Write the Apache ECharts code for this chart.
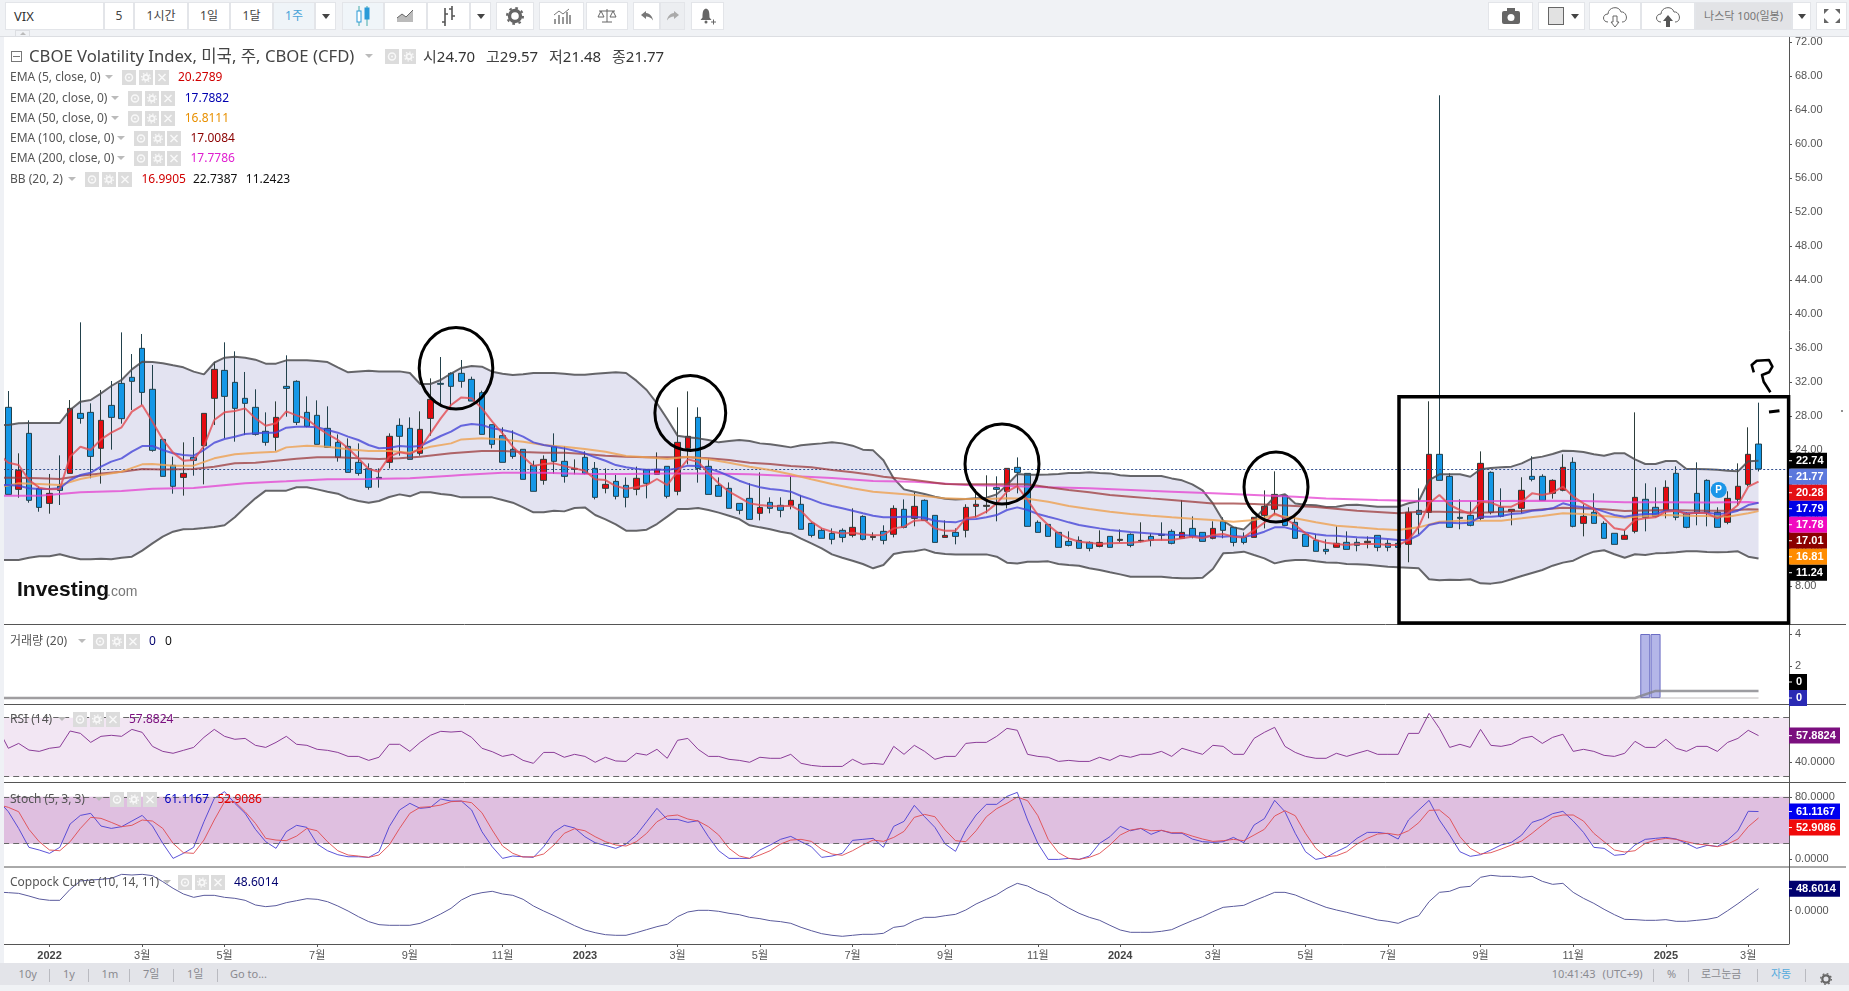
<!DOCTYPE html>
<html lang="ko">
<head>
<meta charset="utf-8">
<title>VIX 주봉 차트</title>
<script src="https://cdn.jsdelivr.net/npm/echarts@6/dist/echarts.min.js"></script>
<style>
  html,body{margin:0;padding:0;background:#fff;width:1849px;height:991px;overflow:hidden;
    font-family:"Noto Sans","Noto Sans CJK KR",sans-serif;}
  #chart{position:absolute;left:0;top:0;width:1849px;height:991px;}
  .abs{position:absolute;white-space:nowrap;}
  #toolbar{position:absolute;left:0;top:0;width:1849px;height:36px;background:#f0f2f5;border-bottom:1px solid #dcdee2;}
  #gutter{position:absolute;left:0;top:37px;width:4px;height:926px;background:#eff1f5;}
  #bottombar{position:absolute;left:0;top:963px;width:1849px;height:22px;background:#e3e4e9;}
  #footer{position:absolute;left:0;top:985px;width:1849px;height:6px;background:#f0f2f5;}
  .cell{position:absolute;top:2px;height:28px;background:#fff;border:1px solid #e3e5e9;box-sizing:border-box;
    text-align:center;line-height:26px;font-size:12px;color:#444;}
  .cell svg{position:absolute;left:50%;top:50%;transform:translate(-50%,-50%);}
  .caret{position:absolute;left:50%;top:50%;margin:-2px 0 0 -4px;width:0;height:0;border-left:4px solid transparent;border-right:4px solid transparent;border-top:5px solid #444;}
  .lg{position:absolute;white-space:nowrap;font-size:12px;line-height:16px;color:#555;}
  .dd{position:absolute;width:0;height:0;border-left:4px solid transparent;border-right:4px solid transparent;border-top:4px solid #bbb;}
  .btn{position:absolute;width:14px;height:15px;}
  .bb{position:absolute;top:969px;height:13px;width:1px;background:#b9bac0;}
  .bt{position:absolute;top:966px;font-size:11px;line-height:16px;color:#8a8a90;white-space:nowrap;}
  #tab{position:absolute;left:15px;top:30px;width:15px;height:6px;background:#f0f2f5;border:1px solid #dcdee2;border-bottom:0;box-sizing:border-box;}
  #tab:after{content:"";position:absolute;left:4px;top:1px;width:0;height:0;border-left:3px solid transparent;border-right:3px solid transparent;border-bottom:3px solid #bbb;}
</style>
</head>
<body>
<div id="chart"></div>
<div id="toolbar"></div>
<div id="tab"></div>
<div id="gutter"></div>
<div id="bottombar"></div>
<div id="footer"></div>
<div id="overlay"></div>
<script>
// Weekly VIX bars, December 2021 to March 2025 (index 0 = first week drawn)
const opens = [
  29.02,19.37,25.96,19.45,17.72,19.73,21.25,28.31,28.43,24.20,
  29.25,31.84,32.55,35.96,31.14,25.25,22.20,20.78,23.14,24.51,
  30.08,33.37,31.96,30.08,29.02,26.20,25.49,31.49,32.08,28.43,
  28.08,26.55,24.90,24.43,22.55,21.80,20.78,22.55,26.90,26.55,
  23.61,27.72,31.84,33.02,33.02,32.31,30.74,26.98,25.69,24.08,
  24.08,22.19,20.43,24.43,22.67,21.72,23.14,21.84,19.49,20.31,
  19.84,19.37,21.72,21.14,22.08,19.14,24.19,27.84,22.08,19.84,
  19.49,17.72,18.31,16.55,17.84,17.49,17.49,17.61,15.37,14.55,
  14.19,14.55,13.96,16.19,13.72,14.43,14.08,17.02,15.96,18.08,
  16.31,13.72,14.31,14.55,17.37,17.37,19.57,19.13,21.96,21.25,
  15.49,15.25,14.31,13.25,13.37,13.13,12.66,13.84,13.37,14.08,
  13.29,13.84,14.08,14.43,13.61,14.78,14.31,13.61,15.61,14.90,
  13.72,13.72,16.31,17.02,18.66,15.49,14.08,13.37,12.31,12.55,
  13.14,13.14,13.10,13.96,13.02,13.02,12.90,16.90,16.67,23.49,
  20.90,16.08,16.31,15.96,21.37,17.26,16.79,17.14,20.90,20.90,
  18.90,19.26,22.55,15.37,16.67,15.37,14.20,13.49,14.43,18.20,
  17.26,16.90,21.26,16.55,18.90,20.43,16.67,15.49,18.20,19.96,24.70
];
const closes = [
  18.78,21.61,18.08,17.25,18.90,19.25,28.90,27.72,23.25,27.49,
  27.84,27.69,32.08,30.78,23.96,20.90,19.73,21.25,22.78,28.31,
  33.49,30.31,28.90,29.49,25.84,24.90,27.84,31.25,27.25,26.78,
  24.67,24.31,23.14,21.37,21.25,19.61,20.63,25.61,25.61,22.90,
  26.43,29.96,31.73,31.49,32.08,29.76,25.84,24.67,22.55,23.25,
  20.55,19.14,22.90,22.67,20.90,21.84,21.25,18.43,19.96,18.55,
  18.43,20.67,20.08,21.72,18.55,24.90,25.61,21.84,18.78,18.55,
  17.14,16.90,15.84,17.25,17.14,16.90,18.08,14.67,13.96,13.61,
  13.49,13.72,14.90,13.49,13.84,13.37,17.13,14.90,17.37,15.72,
  13.13,13.96,13.84,17.25,17.61,17.49,19.37,21.84,21.37,15.02,
  14.31,13.84,12.55,12.78,12.43,12.43,13.13,12.55,13.49,12.78,
  13.37,13.37,13.96,13.02,14.31,13.84,13.25,14.78,14.55,13.13,
  13.13,16.08,17.37,18.78,15.13,13.61,12.66,12.08,12.08,13.02,
  12.31,12.79,13.26,12.55,12.55,12.55,16.67,16.43,23.49,20.43,
  14.90,15.96,15.14,22.43,16.67,16.20,17.02,19.26,20.55,18.08,
  20.43,21.96,15.02,16.20,15.37,13.61,12.90,13.96,18.43,16.08,
  16.20,19.61,16.08,14.90,16.55,16.67,14.90,18.31,19.73,23.49,21.77
];
const lows = [
  18.78,18.39,17.80,16.74,16.51,17.53,21.25,27.10,20.67,20.04,
  24.04,27.10,28.71,29.29,23.80,20.90,18.86,18.63,20.98,19.96,
  26.94,25.37,24.98,25.76,25.69,24.51,23.92,27.92,26.94,26.67,
  24.67,24.31,22.63,21.37,20.98,19.33,19.57,21.84,23.33,22.90,
  23.33,25.69,29.29,28.70,31.33,29.76,25.84,24.19,22.55,22.98,
  20.55,19.14,19.92,21.21,20.16,21.14,21.14,18.19,18.90,18.19,
  17.25,18.67,18.31,21.14,18.31,18.67,22.31,20.16,18.78,18.55,
  17.14,16.43,15.84,15.72,16.55,16.08,17.02,14.67,13.72,13.61,
  12.90,13.14,13.72,13.37,13.37,12.90,13.72,14.78,15.02,15.72,
  13.13,13.72,12.90,13.72,16.08,16.55,15.61,17.13,18.90,15.02,
  14.31,13.84,12.55,12.66,12.43,12.08,12.55,12.55,13.13,12.55,
  13.13,12.66,13.37,12.90,13.61,13.61,13.25,13.49,13.61,12.66,
  12.90,13.72,14.78,16.31,15.13,13.61,12.66,12.08,11.72,12.55,
  12.31,12.08,12.43,12.08,12.08,12.55,10.79,14.08,15.96,20.43,
  14.90,14.67,15.02,15.73,16.43,16.08,15.14,16.55,20.31,18.08,
  18.28,19.14,14.90,13.84,15.37,13.61,12.90,13.49,14.20,14.43,
  16.08,15.96,15.73,14.79,15.14,15.02,14.90,15.26,17.49,19.73,21.48
];
const highs = [
  30.94,23.61,27.49,19.69,21.18,23.37,29.88,39.02,29.49,31.06,
  32.12,37.84,35.29,37.65,34.00,25.25,23.22,24.90,25.53,28.31,
  34.39,36.67,35.61,33.18,31.14,28.43,29.72,35.14,32.20,30.31,
  29.84,29.14,25.84,25.37,24.78,22.43,21.84,25.96,27.72,27.84,
  28.55,32.43,34.94,33.14,34.59,32.63,30.98,26.98,26.67,26.31,
  24.08,22.74,23.37,25.96,24.43,22.90,23.84,22.59,21.84,21.06,
  20.78,22.04,21.72,23.72,22.08,29.02,30.90,29.02,23.02,20.78,
  20.19,17.72,20.08,21.37,18.43,18.43,20.90,18.67,15.49,14.78,
  14.78,14.78,17.14,16.31,14.31,15.14,17.49,18.19,19.02,18.19,
  16.31,15.72,14.78,17.61,19.37,21.02,20.90,21.84,23.13,21.25,
  15.72,15.25,14.31,14.43,13.84,13.25,14.55,13.84,14.66,14.19,
  15.49,14.19,15.49,14.66,18.08,16.19,14.31,15.61,16.08,14.90,
  14.31,16.08,19.25,21.49,18.66,16.31,14.08,14.08,13.49,15.02,
  14.43,13.61,13.84,13.96,13.45,13.45,17.26,19.49,29.73,65.73,
  21.26,18.20,17.96,23.84,21.49,19.49,17.02,20.79,23.26,21.14,
  20.55,23.49,23.14,17.61,18.90,15.61,14.20,14.59,28.43,20.08,
  19.61,20.43,22.08,16.67,22.55,20.55,17.26,19.14,22.43,26.67,29.57
];

// Bollinger band edges, one reading per bar
const bbUpper = [
  26.94,27.14,27.18,27.18,27.18,27.18,28.71,29.69,29.88,30.67,
  31.53,32.24,33.49,34.39,34.35,34.20,33.96,33.73,33.22,32.90,
  34.27,34.86,34.98,34.86,34.63,34.16,34.16,34.55,34.55,34.55,
  34.47,34.35,33.73,33.14,33.25,33.33,33.25,33.25,33.25,33.06,
  31.76,31.76,32.24,33.00,33.65,33.88,33.80,33.21,32.98,32.82,
  32.90,33.06,33.06,33.06,32.98,32.86,32.86,32.98,33.06,33.14,
  33.06,32.16,31.06,29.49,27.65,25.69,25.49,25.37,25.18,24.90,
  25.06,25.18,25.06,24.78,24.67,24.51,24.31,24.55,24.67,24.78,
  24.90,24.78,24.51,24.04,23.96,22.80,20.66,19.37,19.10,18.82,
  18.51,18.27,18.19,18.23,18.31,18.39,18.78,19.88,21.17,21.10,
  21.10,21.13,21.17,21.29,21.29,21.37,21.29,21.25,21.02,20.94,
  20.94,20.94,20.94,20.66,20.43,19.96,19.25,17.72,15.68,14.90,
  14.66,15.80,17.20,18.50,18.80,17.70,17.57,17.50,17.30,17.33,
  17.53,17.57,17.45,17.33,17.33,17.33,17.73,18.00,20.47,21.14,
  21.14,21.14,20.86,21.73,21.88,21.96,22.04,22.43,23.02,23.22,
  23.53,23.92,23.88,23.77,23.49,23.33,23.61,23.61,22.90,22.35,
  22.35,22.71,22.71,21.77,21.77,21.73,21.69,21.57,21.49,22.67,22.74
];
const bbLower = [
  11.06,11.06,11.33,11.49,11.49,11.73,11.41,11.14,11.14,11.22,
  11.14,11.33,11.45,12.16,13.02,13.80,14.39,14.67,14.71,14.82,
  14.94,15.14,16.08,17.25,18.31,19.22,19.22,19.22,19.61,19.61,
  19.37,19.10,18.86,18.31,18.00,17.80,18.00,18.47,18.78,18.55,
  19.02,19.02,18.82,18.70,18.43,18.43,18.43,18.43,18.12,17.80,
  17.25,16.67,16.67,16.86,16.78,17.18,17.25,16.35,15.84,15.25,
  14.51,14.51,14.63,15.29,16.16,17.06,17.06,17.18,16.94,16.63,
  16.27,15.88,15.14,14.90,14.67,14.39,14.19,13.57,13.02,12.43,
  11.72,11.33,10.98,10.59,10.08,10.47,11.76,12.00,12.08,12.31,
  11.92,11.76,11.72,11.72,11.72,11.72,11.45,10.74,10.66,10.86,
  10.86,10.90,10.59,10.47,10.39,10.08,9.88,9.61,9.37,9.10,
  9.10,9.10,9.10,8.98,8.90,8.90,8.98,10.00,11.84,11.92,
  12.04,11.64,11.25,10.66,10.94,11.06,11.06,10.90,10.76,10.75,
  10.59,10.55,10.51,10.39,10.27,10.20,10.16,10.08,8.79,8.67,
  8.75,8.71,8.79,8.31,8.28,8.43,8.79,9.18,9.53,9.88,
  10.39,10.75,10.98,11.57,12.04,12.20,11.73,11.33,11.73,11.65,
  11.84,11.88,11.96,12.08,12.08,12.00,11.96,12.00,12.08,11.45,11.24
];

// Moving averages: the short ones per bar, the slow ones as [bar, value] readings
const ema5 = [
  22.51,22.24,20.47,19.57,19.37,19.41,23.22,24.39,24.00,25.25,
  26.04,26.67,28.51,29.29,27.33,25.25,23.69,22.75,22.82,24.47,
  27.53,28.43,28.59,28.90,27.72,26.86,27.14,28.55,28.08,27.65,
  26.67,25.88,25.18,24.20,23.02,21.76,21.45,23.22,23.73,23.53,
  24.20,25.96,27.72,29.29,30.19,30.08,28.90,27.33,25.96,24.39,
  23.21,22.12,22.35,22.43,22.12,21.84,21.57,20.55,20.47,19.76,
  19.45,19.61,19.88,20.59,19.88,21.45,22.90,22.63,21.25,20.08,
  19.10,18.43,17.72,17.53,17.41,17.37,17.45,16.82,15.57,14.78,
  14.39,14.19,14.27,14.08,13.96,14.00,14.78,14.98,15.68,15.76,
  14.78,14.51,14.51,15.96,16.15,16.74,17.72,19.10,19.76,18.12,
  16.35,15.17,14.19,13.61,13.21,13.10,12.94,13.02,13.06,13.10,
  13.21,13.41,13.45,13.41,13.61,13.80,13.61,14.00,14.12,13.80,
  13.72,14.59,15.45,16.55,15.96,15.17,14.19,13.41,13.10,12.94,
  12.82,12.94,12.94,12.94,12.82,12.82,13.41,14.98,17.73,18.71,
  17.53,16.94,16.47,17.92,17.81,17.33,17.33,17.92,18.90,18.71,
  18.98,19.69,18.51,17.73,17.06,15.96,14.79,14.59,15.77,15.96,
  16.08,16.75,16.86,16.47,16.63,16.55,15.96,16.55,17.53,19.69,20.28
];
const ema20 = [
  19.88,19.80,19.49,19.41,19.41,19.49,20.47,21.06,21.33,22.04,
  22.63,23.02,23.80,24.47,24.47,24.00,23.61,23.41,23.33,24.00,
  24.86,25.29,25.57,25.88,25.96,26.04,26.04,26.63,26.74,26.74,
  26.67,26.35,26.04,25.57,25.18,24.59,24.20,24.27,24.47,24.39,
  24.47,25.06,25.65,26.16,26.86,27.06,26.94,26.55,26.35,26.08,
  25.57,24.90,24.59,24.39,24.19,23.92,23.61,23.14,22.74,22.23,
  21.96,21.80,21.65,21.72,21.65,21.84,22.16,22.12,21.84,21.45,
  20.94,20.39,19.96,19.61,19.41,19.29,19.10,18.59,18.19,17.72,
  17.41,17.14,16.86,16.55,16.27,16.08,16.08,16.15,16.15,16.04,
  15.68,15.57,15.49,15.84,15.88,16.08,16.35,16.94,17.25,16.94,
  16.47,16.15,15.84,15.49,15.17,14.98,14.78,14.59,14.47,14.35,
  14.27,14.19,14.08,14.00,14.00,13.92,13.80,13.88,13.80,13.88,
  13.80,14.00,14.39,14.90,14.90,14.59,14.31,14.08,13.95,13.92,
  13.81,13.73,13.69,13.61,13.53,13.41,13.41,14.00,15.18,15.45,
  15.45,15.37,15.45,16.16,16.16,16.24,16.47,16.55,16.86,16.94,
  17.14,17.73,17.41,17.26,17.14,16.75,16.35,16.16,16.35,16.47,
  16.47,16.86,16.86,16.55,16.63,16.63,16.47,16.55,16.86,17.53,17.79
];
const ema50 = [
  [-0.5,19.69],[1,20.08],[3,20.00],[5,19.88],[7,20.59],[9,21.06],[11,21.45],[13,22.31],[14,22.35],[16,22.16],
  [18,22.16],[20,23.02],[22,23.49],[24,23.69],[26,23.80],[27,24.31],[29,24.51],[31,24.39],[33,24.08],[35,23.88],
  [37,23.88],[39,23.69],[41,24.39],[43,24.78],[44,25.25],[46,25.37],[48,25.25],[50,24.98],[52,24.59],[54,24.39],
  [56,24.12],[58,23.80],[60,23.29],[62,23.14],[64,22.94],[66,23.21],[68,22.90],[70,22.51],[72,22.04],[74,21.65],
  [76,21.14],[78,20.55],[80,20.00],[82,19.49],[84,19.10],[88,18.70],[91,18.31],[93,18.23],[95,18.23],[97,18.31],
  [99,18.27],[101,17.92],[103,17.41],[105,17.06],[107,16.74],[109,16.47],[111,16.27],[113,16.08],[115,15.92],[117,15.76],
  [119,15.57],[121,15.76],[123,16.35],[125,15.96],[127,15.49],[129,15.10],[131,14.90],[133,14.71],[135,14.59],[137,14.90],
  [139,15.57],[141,15.69],[143,15.69],[145,15.69],[147,15.96],[149,16.24],[151,16.55],[153,16.47],[155,16.24],[157,16.04],
  [159,16.24],[161,16.35],[163,16.28],[165,16.24],[167,16.16],[169,16.55],[170,16.81]
];
const ema100 = [
  [-0.5,20.74],[1,20.74],[3,20.67],[5,20.59],[7,20.98],[9,21.25],[11,21.45],[13,21.76],[15,21.72],[18,21.76],
  [20,22.04],[22,22.43],[24,22.51],[26,22.75],[28,22.98],[30,23.14],[32,23.14],[34,23.02],[36,22.94],[38,23.02],
  [40,23.22],[43,23.61],[44,23.72],[46,23.88],[48,23.88],[50,23.76],[52,23.69],[54,23.69],[56,23.53],[58,23.33],
  [60,23.21],[62,23.14],[64,23.14],[66,23.14],[68,23.02],[70,22.82],[72,22.51],[74,22.35],[76,22.12],[78,21.96],
  [80,21.65],[82,21.37],[84,21.06],[85,20.86],[88,20.47],[91,20.00],[93,19.96],[95,19.96],[97,19.96],[99,19.96],
  [101,19.61],[103,19.29],[105,19.02],[107,18.70],[109,18.51],[111,18.31],[113,18.12],[115,17.92],[117,17.72],[119,17.72],
  [121,17.64],[123,17.53],[125,17.41],[127,17.29],[131,16.86],[135,16.55],[137,16.75],[139,16.75],[143,16.63],[147,16.82],
  [151,17.22],[155,17.02],[157,16.82],[161,16.94],[165,16.86],[167,16.86],[169,17.02],[170,17.01]
];
const ema200 = [
  [-0.5,18.63],[3,18.63],[7,19.02],[11,19.18],[14,19.45],[18,19.53],[23,20.08],[27,20.31],[31,20.55],[35,20.59],
  [39,20.67],[43,20.98],[44,21.06],[48,21.33],[52,21.33],[56,21.18],[60,21.18],[64,21.25],[68,21.25],[72,21.14],
  [76,20.94],[80,20.70],[84,20.35],[88,20.27],[93,19.88],[97,19.76],[101,19.61],[105,19.49],[109,19.29],[113,19.10],
  [117,18.90],[121,18.70],[125,18.51],[128,18.30],[133,18.12],[137,18.00],[141,18.00],[145,18.00],[149,18.04],[153,18.00],
  [157,17.84],[161,17.84],[165,17.81],[169,17.88],[170,17.78]
];

// Volume pane: only two weeks carry a reported volume
const volumeBars = [[159,4],[160,4]];
const volumeAvg = [[-0.5,0],[158,0],[160,0.44],[170,0.44]];
const volumeZero = [[-0.5,0],[170,0]];

const rsi = [
  49.3,52.6,48.1,47.2,49.3,50.2,61.0,59.4,53.3,57.4,
  58.1,57.4,62.1,60.1,50.6,47.2,45.9,47.9,49.9,56.7,
  62.1,57.4,55.4,56.0,51.3,49.9,53.3,57.4,52.0,51.3,
  48.6,47.9,46.5,43.8,43.8,41.1,43.2,52.0,52.0,47.2,
  53.3,58.1,60.8,60.3,60.8,56.7,49.3,47.0,43.8,45.2,
  41.1,39.1,46.5,46.5,43.2,45.2,43.8,39.8,43.2,40.7,
  40.4,45.9,44.7,48.6,42.5,54.7,56.0,48.6,43.8,43.8,
  41.8,41.1,39.8,43.2,42.5,42.5,45.2,39.1,37.7,37.0,
  37.0,37.0,41.8,38.4,39.1,38.4,50.6,45.2,51.3,47.2,
  41.8,43.8,43.8,52.6,53.3,53.3,57.4,62.8,61.5,45.2,
  43.8,43.2,40.4,41.1,40.4,40.4,43.2,41.1,44.5,43.2,
  45.2,45.2,47.2,43.8,49.3,47.2,45.2,51.3,50.6,45.2,
  45.2,56.0,60.1,63.5,50.6,46.5,43.8,42.5,42.5,45.9,
  43.8,45.9,47.9,45.2,45.2,45.2,59.4,59.4,73.0,62.8,
  49.9,52.0,49.9,62.1,51.3,50.6,52.0,56.0,57.4,52.6,
  56.7,58.8,47.2,48.6,47.2,44.5,43.8,45.9,54.0,49.9,
  49.9,55.4,49.3,47.2,50.6,50.6,47.2,53.3,56.0,61.5,57.88
];
const stochK = [
  60.9,39.6,15.4,12.0,7.7,15.4,45.2,56.2,58.8,42.6,
  39.6,41.8,49.0,56.2,42.6,20.5,1.3,7.7,15.4,48.1,
  77.9,86.5,71.6,58.8,38.4,22.6,14.1,35.4,43.5,40.9,
  19.6,11.1,6.0,3.4,3.4,2.6,9.8,41.8,63.1,71.6,
  65.2,66.5,77.1,74.5,74.5,63.1,35.4,16.2,1.3,4.3,
  3.4,2.6,16.2,34.9,43.5,40.1,29.0,21.3,17.9,14.1,
  19.6,31.1,48.1,65.2,51.1,51.1,47.3,49.4,29.0,11.1,
  1.3,1.3,1.3,12.0,18.4,25.6,29.4,22.6,16.2,2.6,
  4.3,7.7,24.3,25.6,26.9,15.4,42.2,48.6,69.0,54.5,
  40.9,19.6,10.3,37.5,56.7,70.3,70.3,80.5,85.6,50.3,
  20.5,0.0,0.0,1.3,0.0,4.3,20.5,29.0,42.2,36.6,
  39.6,32.0,37.1,33.3,33.3,26.0,22.6,21.8,22.6,28.1,
  21.3,43.9,52.0,75.4,60.9,33.3,9.8,0.0,2.6,9.8,
  16.2,26.9,34.5,34.5,32.8,26.0,50.3,63.1,75.4,50.3,
  31.1,9.8,3.9,6.0,12.0,18.4,21.8,31.1,47.3,51.6,
  58.4,61.4,49.0,34.5,15.4,14.1,5.2,6.4,18.4,25.6,
  26.9,28.1,26.0,20.5,14.1,17.9,16.6,24.7,36.6,61.4,61.12
];
const stochD = [
  66.5,60.9,38.4,22.6,12.0,11.1,22.6,39.6,53.7,52.4,
  47.3,41.8,43.5,50.3,49.0,39.6,20.5,8.6,7.7,24.7,
  50.3,73.7,73.7,60.9,46.0,26.9,24.7,23.9,29.8,39.6,
  36.6,22.6,11.1,5.6,4.3,2.6,5.6,18.4,39.6,58.8,
  66.5,67.3,69.4,73.7,74.5,72.4,59.6,37.5,17.1,7.7,
  3.0,3.4,6.9,18.4,33.3,39.2,36.6,29.0,22.6,18.4,
  17.1,22.6,33.3,48.1,55.4,56.7,51.6,49.0,41.8,31.1,
  14.1,4.3,1.3,5.6,11.1,19.6,24.7,25.6,23.0,12.8,
  6.9,5.2,11.1,18.4,24.7,23.0,28.1,35.8,53.7,57.5,
  54.5,37.5,23.9,22.6,36.6,54.5,64.8,71.6,79.6,75.0,
  55.8,25.6,8.6,1.3,0.0,2.6,7.7,18.4,31.1,37.5,
  39.6,36.6,37.1,34.1,34.1,29.8,26.0,23.0,23.9,25.6,
  23.9,31.1,38.4,55.4,62.2,55.8,33.3,14.1,3.4,4.7,
  9.8,19.6,26.9,32.4,33.3,31.1,36.6,46.9,62.6,63.1,
  52.4,29.0,14.1,6.9,8.6,13.2,18.4,23.5,33.3,43.9,
  53.7,56.7,56.7,49.0,33.3,22.6,12.0,9.4,11.1,20.5,
  24.7,26.9,25.6,22.6,19.6,18.4,16.2,19.6,26.0,41.8,52.91
];
const coppock = [
  39.8,38.3,32.4,25.8,22.9,22.9,47.2,65.6,67.8,69.2,
  71.5,80.3,78.8,80.3,77.4,64.1,49.4,36.9,29.5,33.9,
  33.9,29.5,27.3,22.9,12.6,8.9,11.1,17.7,22.1,26.5,
  25.1,19.9,10.4,-0.7,-13.2,-24.2,-30.9,-32.3,-32.3,-32.3,
  -27.9,-18.4,-7.3,5.2,23.6,34.7,39.8,42.8,36.9,33.9,
  25.1,10.4,-0.7,-11.0,-22.0,-33.1,-42.7,-48.6,-53.0,-54.4,
  -54.4,-48.6,-41.9,-35.3,-30.1,-13.2,-2.9,0.8,0.8,-1.4,
  -5.8,-8.8,-14.7,-17.6,-22.0,-24.2,-27.9,-36.8,-44.2,-50.8,
  -54.4,-56.6,-54.4,-52.2,-52.2,-50.0,-36.8,-33.8,-22.0,-14.7,
  -14.7,-11.0,-8.1,1.5,14.8,25.1,35.4,49.4,60.4,54.5,
  42.8,33.9,19.2,5.9,-5.8,-14.7,-21.3,-32.3,-42.7,-47.8,
  -47.8,-47.8,-45.6,-41.9,-31.6,-22.0,-13.2,-2.2,7.4,9.6,
  11.8,22.1,31.0,40.5,40.5,34.7,25.1,16.2,7.4,1.5,
  -3.6,-9.5,-14.7,-20.6,-23.5,-27.9,-18.4,-11.0,19.9,40.5,
  42.8,51.6,53.8,73.7,78.1,75.9,75.9,73.7,75.9,64.8,
  58.2,60.4,40.5,27.3,16.2,3.0,-8.8,-19.1,-19.8,-21.3,
  -21.3,-19.8,-23.5,-23.5,-21.3,-19.1,-14.7,0.0,15.5,32.4,48.60
];

// Readings where each running line crosses the left edge of the plot
const edgeBbUpper = 26.94, edgeBbLower = 11.06, edgeEma5 = 23.02, edgeEma20 = 19.88;
const edgeRsi = 56.0, edgeStoch = 68.2, edgeCoppock = 40.5;
const EDGE_BAR = -0.5;

// Time axis: bar positions of the month labels and their text
const tickBars = [4,13,21,30,39,48,56,65,73,82,91,100,108,117,126,134,143,152,161,169];
const tickLabels = ['2022','3월','5월','7월','9월','11월','2023','3월','5월','7월','9월','11월','2024','3월','5월','7월','9월','11월','2025','3월'];

// Value axis ticks per pane
const priceTicks = [8,12,16,20,24,28,32,36,40,44,48,52,56,60,64,68,72];
const volumeTicks = [0,2,4];
const rsiTicks = [40];
const stochTicks = [0,40,80];
const coppockTicks = [0];

// Last-value tags on the right edge
const priceTags = [[22.74,'#000000'],[21.77,'#5b78dc'],[20.28,'#e40f14'],[17.79,'#0000e6'],[17.78,'#f00ac0'],[17.01,'#8b0000'],[16.81,'#ff8c00'],[11.24,'#000000']];

// Pane geometry: price pane plus four indicator panes sharing one bar scale
const PLOT_L = 3.2, PLOT_R = 1789;
const barMax = 172.96;
const panes = [
  {top:37,  bottom:624, min:3.53,  max:72.59},
  {top:624, bottom:704, min:-0.375,max:4.625},
  {top:704, bottom:782, min:26.44, max:79.32},
  {top:782, bottom:867, min:-9.71, max:98.85},
  {top:867, bottom:944, min:-73.6, max:96.5}
];
const AXIS_FONT = '"Liberation Sans","Noto Sans CJK KR",sans-serif';

const grids = panes.map(p => ({left:PLOT_L, width:PLOT_R-PLOT_L, top:p.top, height:p.bottom-p.top, show:false}));

const xAxes = panes.map((p,i) => {
  const last = i === panes.length-1;
  return {
    type:'value', gridIndex:i, position:'bottom', min:EDGE_BAR, max:barMax, scale:true, splitLine:{show:false},
    axisLine:{show:false, onZero:false},
    axisTick:{show:last, length:3, lineStyle:{color:'#555'}, customValues:tickBars},
    axisLabel:{
      show:last, margin:6, fontFamily:AXIS_FONT, fontSize:11, color:'#555', hideOverlap:false, customValues:tickBars,
      formatter:v => {
        const t = tickLabels[tickBars.indexOf(v)] || '';
        return /^\d{4}$/.test(t) ? '{y|'+t+'}' : t;
      },
      rich:{y:{fontWeight:'bold', fontSize:11, color:'#444', fontFamily:AXIS_FONT}}
    }
  };
});

function yAxisFor(i, ticks, digits) {
  return {
    type:'value', gridIndex:i, position:'right', min:panes[i].min, max:panes[i].max, scale:true,
    splitLine:{show:false},
    axisLine:{show:true, onZero:false, lineStyle:{color:'#555', width:1}},
    axisTick:{show:true, length:3, inside:false, lineStyle:{color:'#555'}, customValues:ticks},
    axisLabel:{show:true, margin:6, fontFamily:AXIS_FONT, fontSize:11, color:'#555', customValues:ticks,
      hideOverlap:false, showMinLabel:true, showMaxLabel:true, formatter:v => v.toFixed(digits)}
  };
}
const yAxes = [
  yAxisFor(0, priceTicks, 2), yAxisFor(1, volumeTicks, 0), yAxisFor(2, rsiTicks, 4),
  yAxisFor(3, stochTicks, 4), yAxisFor(4, coppockTicks, 4)
];

// Per-bar readings to [bar, value], with an optional reading at the plot's left edge
const indexed = (arr, edge) => {
  const pts = arr.map((v,i) => [i,v]);
  if (edge !== undefined) pts.unshift([EDGE_BAR, edge]);
  return pts;
};
function line(name, data, color, width, opacity, pane, z, extra) {
  return Object.assign({
    name, type:'line', xAxisIndex:pane, yAxisIndex:pane, data, showSymbol:false, symbol:'none', z,
    lineStyle:{color, width, opacity}, silent:true, animation:false, connectNulls:true
  }, extra||{});
}
const dashedLevels = levels => ({
  silent:true, symbol:'none', animation:false,
  lineStyle:{color:'#666', type:[6,4], width:1}, label:{show:false},
  data:levels.map(v => ({yAxis:v}))
});
const levelBand = (a,b,color) => ({
  silent:true, animation:false, itemStyle:{color, opacity:1}, label:{show:false},
  data:[[{yAxis:a},{yAxis:b}]]
});

const series = [
  // Filled Bollinger channel, traced along both edges
  {
    type:'custom', name:'BB 채널', xAxisIndex:0, yAxisIndex:0, z:1, silent:true, animation:false,
    data:[[0, bbUpper[0]]], encode:{x:0,y:1},
    renderItem:(params, api) => {
      const pts = indexed(bbUpper, edgeBbUpper).map(p => api.coord(p));
      indexed(bbLower, edgeBbLower).reverse().forEach(p => pts.push(api.coord(p)));
      return {type:'polygon', shape:{points:pts}, style:{fill:'#e3e3f1'}, silent:true};
    }
  },
  {
    type:'candlestick', name:'VIX', xAxisIndex:0, yAxisIndex:0, z:3, barWidth:6, animation:false, silent:true,
    encode:{x:0, y:[1,2,3,4]},
    data:opens.map((o,i) => [i,o,closes[i],lows[i],highs[i]]),
    itemStyle:{color:'#e30b10', color0:'#1497e6', borderColor:'#2c3d3a', borderColor0:'#22414c', borderColorDoji:'#2c3d3a', borderWidth:1}
  },
  line('BB 상단', indexed(bbUpper, edgeBbUpper), '#4c4c50', 2, 0.85, 0, 4),
  line('BB 하단', indexed(bbLower, edgeBbLower), '#4c4c50', 2, 0.85, 0, 4),
  line('EMA 200', ema200, '#e43fd0', 2, 0.75, 0, 5),
  line('EMA 100', ema100, '#9c3a3a', 2, 0.75, 0, 5),
  line('EMA 50', ema50, '#eda050', 2, 0.8, 0, 5),
  line('EMA 20', indexed(ema20, edgeEma20), '#4646d8', 2, 0.8, 0, 6),
  line('EMA 5', indexed(ema5, edgeEma5), '#e34a50', 2, 0.8, 0, 7, {
    markLine:{silent:true, symbol:'none', animation:false, label:{show:false},
      lineStyle:{color:'#33508f', type:[2,2], width:1}, data:[{yAxis:closes[closes.length-1]}]}
  }),
  // Volume pane
  {type:'bar', name:'거래량', xAxisIndex:1, yAxisIndex:1, data:volumeBars, barWidth:10, silent:true, animation:false, z:2,
    itemStyle:{color:'#b4b6e8', borderColor:'#6b6dc4', borderWidth:1}},
  line('거래량 평균', volumeAvg, '#85858a', 2.4, 0.8, 1, 3),
  line('거래량 기준', volumeZero, '#a7a0a0', 1, 0.7, 1, 3),
  // Oscillators
  line('RSI', indexed(rsi, edgeRsi), '#8b3d98', 1, 1, 2, 3, {
    markArea:levelBand(70,30,'#f2e6f3'), markLine:dashedLevels([70,30])
  }),
  line('Stoch %D', indexed(stochD, edgeStoch), '#e04b50', 1, 0.9, 3, 4, {
    markArea:levelBand(80,20,'#dfbfe0'), markLine:dashedLevels([80,20])
  }),
  line('Stoch %K', indexed(stochK, edgeStoch), '#4a40d4', 1, 0.9, 3, 3),
  line('Coppock', indexed(coppock, edgeCoppock), '#5a5a9c', 1, 1, 4, 3)
];

const chart = echarts.init(document.getElementById('chart'), null, {renderer:'canvas'});
chart.setOption({
  animation:false, backgroundColor:'transparent',
  grid:grids, xAxis:xAxes, yAxis:yAxes, series
});

// Right-edge value tags: each tag sits at its value, pushed down when it would overlap the one above
function stackedTags(entries, axisIndex, width, decimals) {
  const out = [];
  let prev = -Infinity;
  entries.forEach(([v,color]) => {
    let y = chart.convertToPixel({yAxisIndex:axisIndex}, v);
    if (y < prev + 16) y = prev + 16;
    prev = y;
    out.push(tag(y, color, v.toFixed(decimals), width));
  });
  return out;
}
function tag(y, color, text, width) {
  return {
    type:'group', x:PLOT_R, y:y-8, z:50, silent:true,
    children:[
      {type:'rect', shape:{x:0,y:0,width,height:16}, style:{fill:color}, z:50},
      {type:'rect', shape:{x:0,y:7.5,width:3,height:1}, style:{fill:'#fff'}, z:51},
      {type:'text', x:7, y:8, z:51, style:{text, fill:'#fff', font:'bold 11px '+AXIS_FONT, verticalAlign:'middle', textAlign:'left'}}
    ]
  };
}
const stroke = {stroke:'#000', lineWidth:3, fill:'none'};
const ring = (cx,cy,rx,ry) => ({type:'ellipse', shape:{cx,cy,rx,ry}, style:stroke, z:40, silent:true});
const rule = (x1,x2,y,color) => ({type:'line', shape:{x1,y1:y,x2,y2:y}, style:{stroke:color,lineWidth:1}, z:30, silent:true});
const zero = chart.convertToPixel({yAxisIndex:1}, 0);

chart.setOption({
  graphic:[
    rule(4,1846,624.5,'#555'), rule(4,1846,704.5,'#555'), rule(4,1846,782.5,'#555'), rule(4,1846,867,'#555'), rule(4,1789,944.5,'#555'),
    // Hand-drawn markup over the price pane
    ring(456,368.3,36.8,40.7), ring(690.3,413,35.4,37.5), ring(1002,464,37,40), ring(1276,487,32,35),
    {type:'rect', shape:{x:1399,y:396.7,width:389.6,height:226.3}, style:{stroke:'#000',lineWidth:3.5,fill:'none'}, z:40, silent:true},
    {type:'polyline', shape:{points:[[1753.8,372.3],[1751.7,365],[1756.7,360.7],[1769,360],[1772.4,366.7],[1769,372.3],[1762,375],[1763.7,381.7],[1770.4,392.3]]}, style:{stroke:'#000',lineWidth:2.6,fill:'none',lineJoin:'round'}, z:40, silent:true},
    {type:'line', shape:{x1:1769,y1:412,x2:1779.5,y2:410.7}, style:{stroke:'#000',lineWidth:3}, z:40, silent:true},
    {type:'circle', shape:{cx:1842,cy:411,r:0.8}, style:{fill:'#000'}, z:40, silent:true},
    // Position marker
    {type:'circle', shape:{cx:1718.7,cy:490,r:8}, style:{fill:'#1c96e8'}, z:41, silent:true},
    {type:'text', x:1718.7, y:490, z:42, silent:true, style:{text:'P', fill:'#fff', font:'bold 10px '+AXIS_FONT, textAlign:'center', verticalAlign:'middle'}},
    // Broker wordmark
    {type:'text', x:17, y:590, z:20, silent:true, style:{text:'Investing', fill:'#111', font:'bold 21px '+AXIS_FONT, textAlign:'left', verticalAlign:'middle'}},
    {type:'text', x:107, y:592, z:20, silent:true, style:{text:'.com', fill:'#777', font:'14px '+AXIS_FONT, textAlign:'left', verticalAlign:'middle'}},
    ...stackedTags(priceTags, 0, 38, 2),
    tag(zero-16, '#000000', '0', 18), tag(zero, '#2a2ab4', '0', 18),
    ...stackedTags([[57.8824,'#7b0f7f']], 2, 51, 4),
    ...stackedTags([[61.1167,'#0000f0'],[52.9086,'#f00a0a']], 3, 51, 4),
    ...stackedTags([[48.6014,'#00006e']], 4, 51, 4)
  ]
});

// Page chrome around the chart: toolbar, indicator captions, footer
const toolbar = document.getElementById('toolbar');
const overlay = document.getElementById('overlay');
const icon = {
  candle:'<svg width="14" height="22" viewBox="0 0 14 22"><path d="M3 1v20M11 1v20" stroke="#4aa" fill="none"/><rect x="1" y="6" width="4" height="11" fill="#fff" stroke="#2a9ad8"/><rect x="9" y="3" width="4" height="11" fill="#2a9ad8" stroke="#2a9ad8"/></svg>',
  line:'<svg width="20" height="14" viewBox="0 0 20 14"><path d="M1 13V9l5-4 4 3 7-7v12z" fill="#bbb"/><path d="M1 9l5-4 4 3 7-7" stroke="#666" fill="none"/></svg>',
  bars:'<svg width="16" height="22" viewBox="0 0 16 22"><path d="M4 3v18M1 17h3M4 9h3M11 1v14M8 4h3M11 11h3" stroke="#555" stroke-width="1.6" fill="none"/></svg>',
  gear:'<svg width="18" height="18" viewBox="0 0 18 18"><circle cx="9" cy="9" r="5.5" fill="none" stroke="#666" stroke-width="3.4"/><circle cx="9" cy="9" r="8" fill="none" stroke="#666" stroke-width="2" stroke-dasharray="2.6 3.7"/></svg>',
  ind:'<svg width="18" height="18" viewBox="0 0 18 18"><path d="M2 17v-5M6 17V8M10 17v-7M14 17V5M17 17v-9" stroke="#777" stroke-width="1.5"/><path d="M1 8l5-4 4 3 6-5" stroke="#777" fill="none"/></svg>',
  scale:'<svg width="20" height="16" viewBox="0 0 20 16"><path d="M10 1v13M5 14h10M2 3h16M4 3l-3 6h6zM16 3l-3 6h6z" stroke="#666" fill="none"/></svg>',
  undo:'<svg width="14" height="12" viewBox="0 0 14 12"><path d="M6 1L1 5l5 4V6.5c3 0 5 1 7 4-.5-4-3-7-7-7.5z" fill="#777"/></svg>',
  redo:'<svg width="14" height="12" viewBox="0 0 14 12"><path d="M8 1l5 4-5 4V6.5c-3 0-5 1-7 4 .5-4 3-7 7-7.5z" fill="#aaa"/></svg>',
  bell:'<svg width="18" height="18" viewBox="0 0 18 18"><path d="M7 1.5c-3 1-3.5 3.5-3.5 9L1.5 13h11l-2-2.5c0-5.5-.5-8-3.500-9z" fill="#666"/><path d="M12 15h5M14.5 12.5v5" stroke="#666"/><circle cx="7" cy="15" r="1.5" fill="#666"/></svg>',
  camera:'<svg width="18" height="16" viewBox="0 0 18 16"><rect x="0" y="3" width="18" height="13" rx="2" fill="#666"/><rect x="5" y="0" width="8" height="4" fill="#666"/><circle cx="9" cy="9.5" r="3.5" fill="#fff"/></svg>',
  swatch:'<svg style="left:17px" width="16" height="18" viewBox="0 0 16 18"><rect x=".5" y=".5" width="15" height="17" fill="#e2e2e2" stroke="#666"/></svg><i class="caret" style="left:36px"></i>',
  cloudDown:'<svg width="28" height="24" viewBox="0 0 28 24"><path d="M7 18c-6 0-6-8 0-8 0-7 11-9 13-2 6-1 8 10 1 10" fill="none" stroke="#666"/><path d="M12 12h4v6h2l-4 5-4-5h2z" fill="#fff" stroke="#666"/></svg>',
  cloudUp:'<svg width="28" height="24" viewBox="0 0 28 24"><path d="M7 18c-6 0-6-8 0-8 0-7 11-9 13-2 6-1 8 10 1 10" fill="none" stroke="#666"/><path d="M12 23v-6h-3l5-6 5 6h-3v6z" fill="#555"/></svg>',
  full:'<svg width="18" height="16" viewBox="0 0 18 16"><path d="M1 1h5L1 6zM17 1h-5l5 5zM1 15h5l-5-5zM17 15h-5l5-5z" fill="#666"/></svg>'
};
const cells = [
  [5,104,'<span style="position:absolute;left:8px;font-size:13px;color:#333">VIX</span>'],
  [104,134,'5'],[134,188,'1시간'],[188,230,'1일'],[230,273,'1달'],[273,315,'<span style="color:#4aa3d8">1주</span>','#eff4f8'],
  [315,336,'<i class="caret"></i>'],
  [342,384,icon.candle,'#f0f5f9'],[384,427,icon.line],[427,470,icon.bars],[470,491,'<i class="caret"></i>'],
  [496,534,icon.gear],[539,584,icon.ind],[586,628,icon.scale],[633,660,icon.undo],[660,685,icon.redo,'#eceef1'],[691,724,icon.bell],
  [1488,1533,icon.camera],[1538,1585,icon.swatch],[1589,1641,icon.cloudDown],[1641,1695,icon.cloudUp],
  [1695,1792,'<span style="font-size:11px;color:#777">나스닥 100(일봉)</span>','#e2e3e6'],[1792,1811,'<i class="caret"></i>'],[1816,1847,icon.full]
];
toolbar.innerHTML = cells.map(([a,b,html,bg]) =>
  `<div class="cell" style="left:${a}px;width:${b-a}px;${bg?'background:'+bg+';':''}">${html}</div>`).join('');

const put = (x,y,text,color,size) => `<span class="lg" style="left:${x}px;top:${y-8}px;color:${color||'#555'};${size?'font-size:'+size+'px;':''}">${text}</span>`;
// Eye, settings and close glyphs on the small caption buttons
const glyphs = [
  '<circle cx="7" cy="7.5" r="3.5" fill="none" stroke="#f8f8f8" stroke-width="1.5"/><circle cx="7" cy="7.5" r="1" fill="#f8f8f8"/>',
  '<circle cx="7" cy="7.5" r="2.6" fill="none" stroke="#f8f8f8" stroke-width="1.8"/><circle cx="7" cy="7.5" r="4.4" fill="none" stroke="#f8f8f8" stroke-width="1.4" stroke-dasharray="1.4 2"/>',
  '<path d="M3.5 4l7 7M10.500 4l-7 7" stroke="#f8f8f8" stroke-width="1.600"/>'
];
const buttons = (x,y,n) => {
  let s = '';
  for (let k = 0; k < (n||3); k++) {
    s += `<svg class="btn" style="left:${x+k*16.5}px;top:${y-7}px" viewBox="0 0 14 15"><rect width="14" height="15" fill="#dcdcdc"/>${glyphs[k]}</svg>`;
  }
  return s;
};
const drop = (x,y) => `<i class="dd" style="left:${x}px;top:${y-2}px"></i>`;

const captions = [
  ['EMA (5, close, 0)',77,105,122,[[178,'20.2789','#d00000']]],
  ['EMA (20, close, 0)',97.5,111,128,[[184.7,'17.7882','#0000b0']]],
  ['EMA (50, close, 0)',118,111,128,[[184.7,'16.8111','#e89000']]],
  ['EMA (100, close, 0)',138,117,134,[[190.5,'17.0084','#8b0000']]],
  ['EMA (200, close, 0)',158,117,134,[[190.5,'17.7786','#e020d0']]],
  ['BB (20, 2)',179,68,85,[[141.5,'16.9905','#d00000'],[193,'22.7387','#111'],[245.8,'11.2423','#111']]],
  ['거래량 (20)',640.7,78,93,[[149,'0','#00006e'],[165,'0','#111']]],
  ['RSI (14)',719,58,73,[[129,'57.8824','#7b0f7f']]],
  ['Stoch (5, 3, 3)',799,95,110,[[164.5,'61.1167','#0000c0'],[217.5,'52.9086','#e00000']]],
  ['Coppock Curve (10, 14, 11)',882,163,178,[[234,'48.6014','#00006e']]]
];
let html = '';
html += `<div class="abs" style="left:11px;top:51px;width:9px;height:9px;border:1px solid #777"></div>`;
html += `<div class="abs" style="left:13px;top:56px;width:7px;height:1px;background:#777"></div>`;
html += put(29,56,'CBOE Volatility Index, 미국, 주, CBOE (CFD)','#444',16.7);
html += drop(365,56) + buttons(385,56,2);
html += put(423,56,'시<b style="font-weight:400;color:#333">24.70</b>','#444',15);
html += put(486,56,'고<b style="font-weight:400;color:#333">29.57</b>','#444',15);
html += put(549,56,'저<b style="font-weight:400;color:#333">21.48</b>','#444',15);
html += put(612,56,'종<b style="font-weight:400;color:#333">21.77</b>','#444',15);
captions.forEach(([label,y,dx,bx,vals]) => {
  html += put(10,y,label,'#555');
  html += drop(dx,y) + buttons(bx,y);
  vals.forEach(([x,t,c]) => { html += put(x,y,t,c); });
});
// Footer range selector and status
[['10y',18.6],['1y',63],['1m',101.6],['7일',143],['1일',187],['Go to...',230],
 ['10:41:43',1551.8],['(UTC+9)',1602.6],['%',1667],['로그눈금',1701]].forEach(([t,x]) => {
  html += `<span class="bt" style="left:${x}px">${t}</span>`;
});
html += `<span class="bt" style="left:1771px;color:#55aadd">자동</span>`;
[49.4,87.8,129,172.8,216.7,1653,1687.7,1757,1805].forEach(x => { html += `<i class="bb" style="left:${x}px"></i>`; });
html += `<div class="abs" style="left:1820px;top:968px">${icon.gear.replace('width="18" height="18"','width="12" height="12"')}</div>`;
overlay.innerHTML = html;
</script>
</body>
</html>
